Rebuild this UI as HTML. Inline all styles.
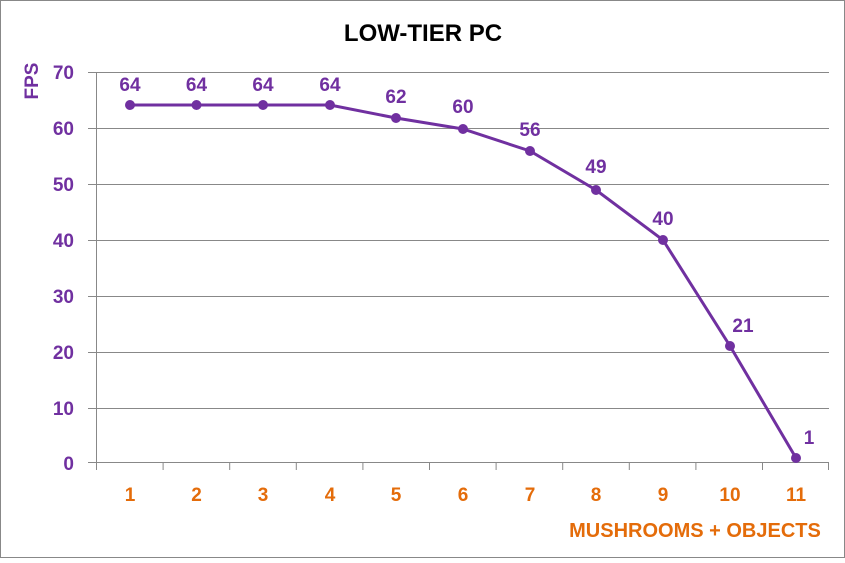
<!DOCTYPE html>
<html><head><style>
html,body{margin:0;padding:0;background:#fff}
svg text{font-family:"Liberation Sans",sans-serif;font-weight:bold}
</style></head><body>
<svg width="845" height="558" xmlns="http://www.w3.org/2000/svg">
<rect x="0.5" y="0.5" width="844" height="557" fill="#fff" stroke="#888"/>
<text x="423" y="41" font-size="24" text-anchor="middle" fill="#000">LOW-TIER PC</text>
<g stroke="#888" stroke-width="1">
<line x1="88" y1="72.5" x2="829" y2="72.5"/>
<line x1="88" y1="128.5" x2="829" y2="128.5"/>
<line x1="88" y1="184.5" x2="829" y2="184.5"/>
<line x1="88" y1="240.5" x2="829" y2="240.5"/>
<line x1="88" y1="296.5" x2="829" y2="296.5"/>
<line x1="88" y1="352.5" x2="829" y2="352.5"/>
<line x1="88" y1="408.5" x2="829" y2="408.5"/>
<line x1="88" y1="462.5" x2="829" y2="462.5"/>
<line x1="96.5" y1="72" x2="96.5" y2="462"/>
</g>
<g stroke="#888" stroke-width="1">
<line x1="96.5" y1="462" x2="96.5" y2="470"/><line x1="163.1" y1="462" x2="163.1" y2="470"/><line x1="229.7" y1="462" x2="229.7" y2="470"/><line x1="296.3" y1="462" x2="296.3" y2="470"/><line x1="362.9" y1="462" x2="362.9" y2="470"/><line x1="429.5" y1="462" x2="429.5" y2="470"/><line x1="496.1" y1="462" x2="496.1" y2="470"/><line x1="562.7" y1="462" x2="562.7" y2="470"/><line x1="629.3" y1="462" x2="629.3" y2="470"/><line x1="695.9" y1="462" x2="695.9" y2="470"/><line x1="762.5" y1="462" x2="762.5" y2="470"/><line x1="828.5" y1="462" x2="828.5" y2="470"/>
</g>
<g font-size="19" fill="#7030A0" text-anchor="end">
<text x="74" y="79">70</text><text x="74" y="135">60</text><text x="74" y="191">50</text><text x="74" y="247">40</text><text x="74" y="303">30</text><text x="74" y="359">20</text><text x="74" y="415">10</text><text x="74" y="470">0</text>
</g>
<text transform="translate(38,81) rotate(-90)" font-size="19" fill="#7030A0" text-anchor="middle">FPS</text>
<g font-size="19" fill="#E46C0A" text-anchor="middle">
<text x="130" y="501">1</text><text x="196.5" y="501">2</text><text x="263" y="501">3</text><text x="330" y="501">4</text><text x="396" y="501">5</text><text x="463" y="501">6</text><text x="530" y="501">7</text><text x="596" y="501">8</text><text x="663" y="501">9</text><text x="730" y="501">10</text><text x="796" y="501">11</text>
</g>
<text x="695" y="537" font-size="20" fill="#E46C0A" text-anchor="middle">MUSHROOMS + OBJECTS</text>
<polyline fill="none" stroke="#7030A0" stroke-width="3" points="130,105 196.5,105 263,105 330,105 396,118 463,129 530,151 596,190 663,240 730,346 796,458"/>
<g fill="#7030A0">
<circle cx="130" cy="105" r="5"/><circle cx="196.5" cy="105" r="5"/><circle cx="263" cy="105" r="5"/><circle cx="330" cy="105" r="5"/><circle cx="396" cy="118" r="5"/><circle cx="463" cy="129" r="5"/><circle cx="530" cy="151" r="5"/><circle cx="596" cy="190" r="5"/><circle cx="663" cy="240" r="5"/><circle cx="730" cy="346" r="5"/><circle cx="796" cy="458" r="5"/>
</g>
<g font-size="19" fill="#7030A0" text-anchor="middle">
<text x="130" y="91">64</text><text x="196.5" y="91">64</text><text x="263" y="91">64</text><text x="330" y="91">64</text><text x="396" y="103">62</text><text x="463" y="113">60</text><text x="530" y="136">56</text><text x="596" y="173">49</text><text x="663" y="225">40</text><text x="743" y="332">21</text><text x="809" y="444">1</text>
</g>
</svg>
</body></html>
